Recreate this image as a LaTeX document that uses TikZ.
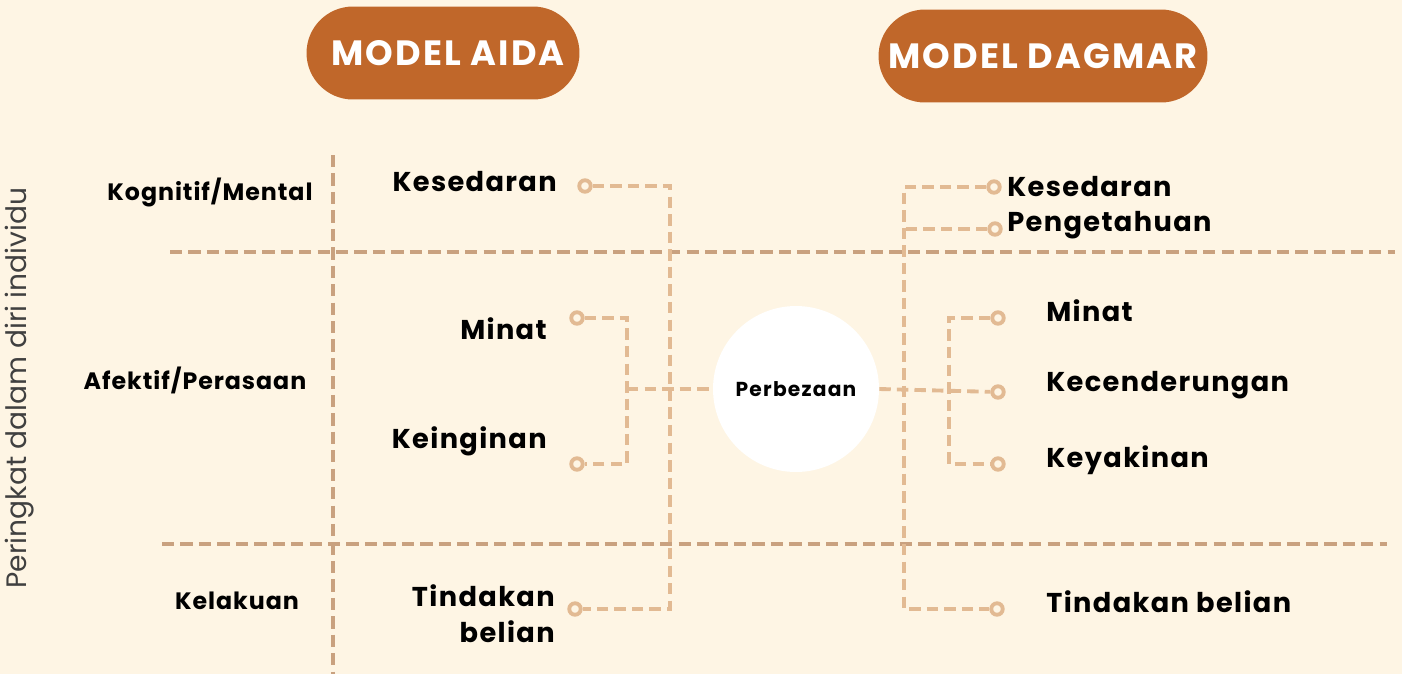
\documentclass[tikz,border=0pt]{standalone}
\usepackage{fontspec}
\setmainfont{Poppins}
\usepackage{tikz}
\usetikzlibrary{calc}

\definecolor{bg}{HTML}{FEF5E4}
\definecolor{pill}{HTML}{C0672A}
\definecolor{grid}{HTML}{C9A17F}
\definecolor{conn}{HTML}{E2BA93}

\begin{document}
\begin{tikzpicture}[
		x=0.02cm, y=-0.02cm,
		title/.style={fill=pill,text=white,rounded corners=0.93cm,minimum height=1.86cm,
			font=\fontsize{20}{24}\selectfont\bfseries\addfontfeatures{LetterSpace=6}},
		gridline/.style={draw=grid,line width=2.3pt,dash pattern=on 7pt off 3.5pt},
		conn/.style={draw=conn,line width=2.2pt,dash pattern=on 6.5pt off 3.5pt},
		dot/.style={circle,draw=conn,fill=bg,line width=2.2pt,inner sep=0pt,minimum size=0.23cm},
		level/.style={font=\fontsize{13.5}{16}\selectfont\bfseries\addfontfeatures{LetterSpace=4}},
		stage/.style={inner sep=0pt,font=\fontsize{15.5}{20.5}\selectfont\bfseries\addfontfeatures{LetterSpace=5}}]
		\fill[bg] (0,0) rectangle (1402,674);
		\useasboundingbox (0,0) rectangle (1402,674);

		\node[title,minimum width=5.46cm] (aida) at (443,53) {\hspace*{0.2cm}MODEL AIDA};
		\node[title,minimum width=6.58cm] (dagmar) at (1043,56) {MODEL DAGMAR};

		\draw[gridline] (333,155) -- (333,674);
		\draw[gridline] (170,252) -- (1395,252);
		\draw[gridline] (162,544) -- (1387,544);

		\node[rotate=90,font=\fontsize{16}{19}\selectfont,text=black!75] (axis) at (20,388) {Peringkat dalam diri individu};
		\node[level] (cog) at (210,192) {Kognitif/Mental};
		\node[level] (aff) at (195,380) {Afektif/Perasaan};
		\node[level] (beh) at (237,601) {Kelakuan};

		\node[circle,fill=white,minimum size=3.32cm,
			font=\fontsize{11.5}{14}\selectfont\bfseries\addfontfeatures{LetterSpace=6}] (diff) at (796,389) {Perbezaan};

		% AIDA side
		\node[stage,anchor=east] (aida1) at (557,182) {Kesedaran};
		\node[stage,anchor=east] (aida2) at (547,329) {Minat};
		\node[stage,anchor=east] (aida3) at (547,441) {Keinginan};
		\node[stage,anchor=east,align=right] (aida4) at (555,614) {Tindakan\\belian};
		\node[dot] (a1) at (585,186) {};
		\node[dot] (a2) at (577,318) {};
		\node[dot] (a3) at (577,464) {};
		\node[dot] (a4) at (575,609) {};
		\coordinate (sA) at (670,0);
		\coordinate (sB) at (627,0);

		% DAGMAR side
		\node[stage,anchor=west] (dag1) at (1007,187) {Kesedaran};
		\node[stage,anchor=west] (dag2) at (1007,225) {Pengetahuan};
		\node[stage,anchor=west] (dag3) at (1046,311) {Minat};
		\node[stage,anchor=west] (dag4) at (1046,385) {Kecenderungan};
		\node[stage,anchor=west] (dag5) at (1046,460) {Keyakinan};
		\node[stage,anchor=west] (dag6) at (1046,602) {Tindakan belian};
		\node[dot] (d1) at (994,187) {};
		\node[dot] (d2) at (995,229) {};
		\node[dot] (d3) at (998,318) {};
		\node[dot] (d4) at (998,392) {};
		\node[dot] (d5) at (998,464) {};
		\node[dot] (d6) at (997,609) {};
		\coordinate (sC) at (949,0);
		\coordinate (sD) at (904,0);

		\draw[conn] (a1) -- (a1 -| sA) -- (a4 -| sA) -- (a4);
		\draw[conn] (a2) -- (a2 -| sB) -- (a3 -| sB) -- (a3);
		\draw[conn] (diff.west -| sB) -- (diff.west);
		\draw[conn] (diff.east) -- (d4);
		\draw[conn] (d3) -- (d3 -| sC) -- (d5 -| sC) -- (d5);
		\draw[conn] (d1) -- (d1 -| sD) -- (d6 -| sD) -- (d6);
		\draw[conn] (d2) -- (d2 -| sD);
\end{tikzpicture}
\end{document}
